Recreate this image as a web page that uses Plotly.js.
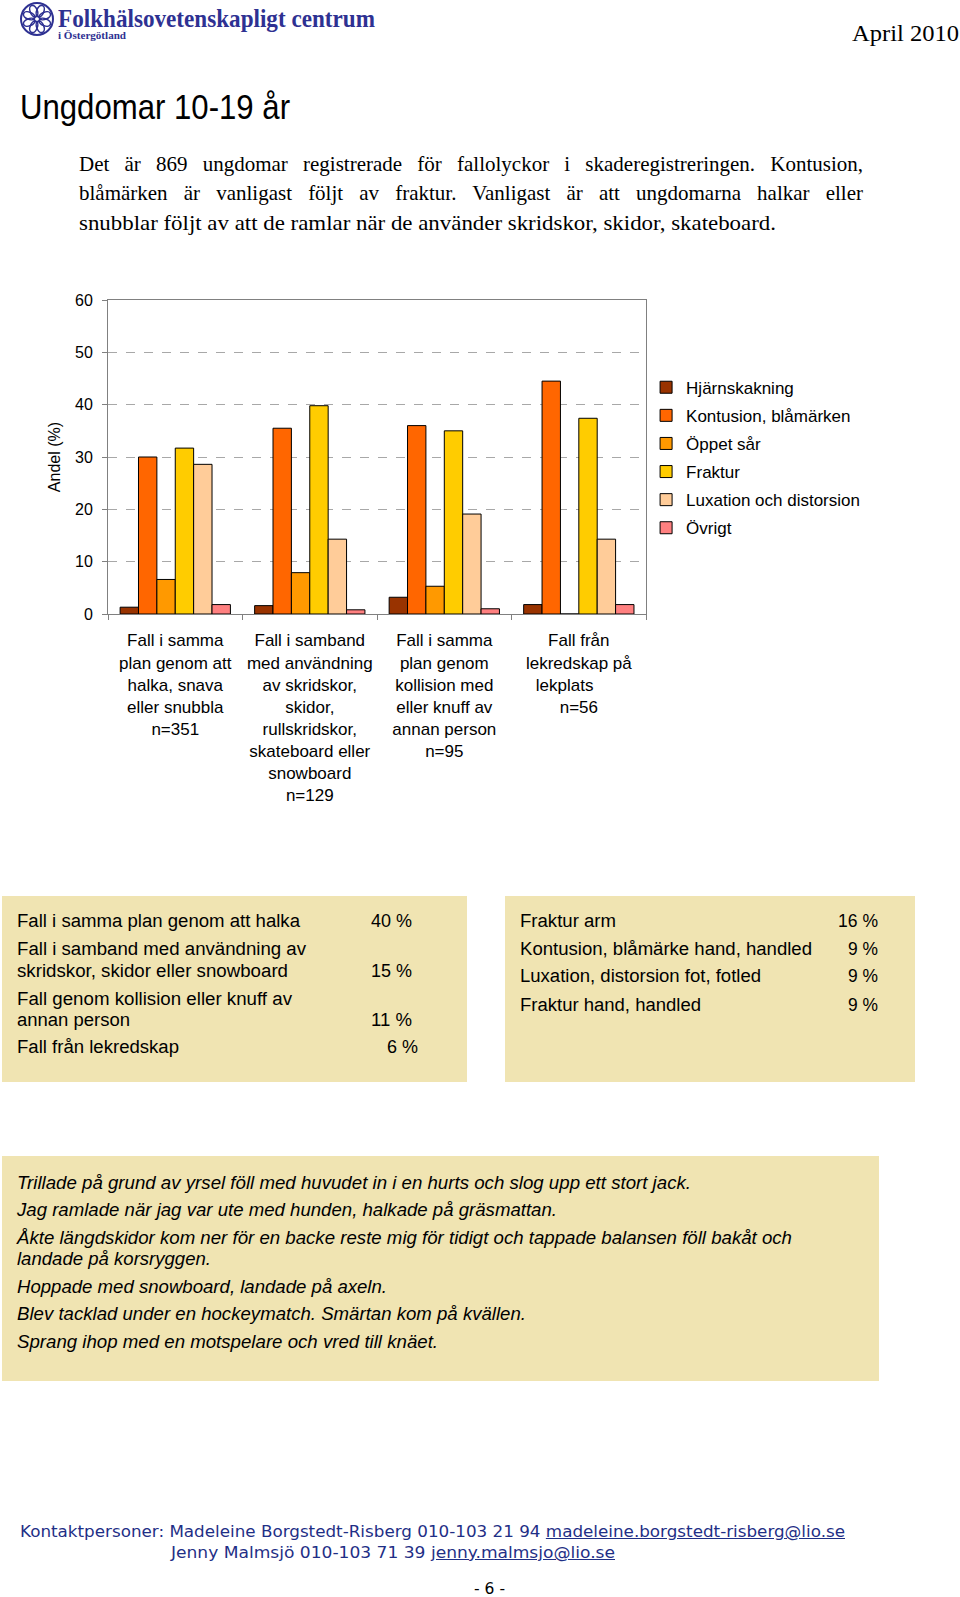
<!DOCTYPE html>
<html><head><meta charset="utf-8">
<script src="https://cdn.plot.ly/plotly-3.0.1.min.js"></script>
<style>
body{margin:0;width:960px;height:1597px;position:relative;background:#fff;overflow:hidden}
.t{position:absolute;white-space:nowrap;line-height:1;transform-origin:0 50%;color:#000}
.box{position:absolute;background:#F0E4B2}
#chart{position:absolute;left:0;top:250px;width:960px;height:570px}
</style></head><body>
<svg style="position:absolute;left:19px;top:1px" width="36" height="36" viewBox="-18 -18 36 36">
  <circle r="16" fill="none" stroke="#2E3192" stroke-width="2"/>
  <g id="petals" fill="none" stroke="#2E3192" stroke-width="1.6"></g>
  <circle r="3" fill="none" stroke="#2E3192" stroke-width="1.4"/>
</svg>
<div class="box" style="left:2px;top:896px;width:465px;height:186px"></div>
<div class="box" style="left:505px;top:896px;width:410px;height:186px"></div>
<div class="box" style="left:2px;top:1156px;width:877px;height:225px"></div>
<div id="chart"></div>
<script>
// ---- chart data ----
const categories = ["Halka, snava, snubbla", "Skridskor, skidor m.m.", "Kollision, knuff", "Lekredskap"];
const tickLabels = [
  "Fall i samma<br>plan genom att<br>halka, snava<br>eller snubbla<br>n=351",
  "Fall i samband<br>med användning<br>av skridskor,<br>skidor,<br>rullskridskor,<br>skateboard eller<br>snowboard<br>n=129",
  "Fall i samma<br>plan genom<br>kollision med<br>eller knuff av<br>annan person<br>n=95",
  "Fall från<br>lekredskap på<br>lekplats&nbsp;&nbsp;&nbsp;&nbsp;&nbsp;&nbsp;<br>n=56"
];
const seriesNames = ["Hjärnskakning", "Kontusion, blåmärken", "Öppet sår", "Fraktur", "Luxation och distorsion", "Övrigt"];
const hjarnskakning = [1.3, 1.6, 3.2, 1.8];
const kontusion     = [30.0, 35.5, 36.0, 44.5];
const oppetSar      = [6.6, 7.9, 5.3, 0];
const fraktur       = [31.7, 39.8, 35.0, 37.4];
const luxation      = [28.6, 14.3, 19.1, 14.3];
const ovrigt        = [1.8, 0.8, 1.0, 1.8];
const yTickVals = [0, 10, 20, 30, 40, 50, 60];

// ---- table / text data ----
const causeLabels = ["Fall i samma plan genom att halka", "Fall i samband med användning av", "skridskor, skidor eller snowboard", "Fall genom kollision eller knuff av", "annan person", "Fall från lekredskap"];
const causeShares = ["40 %", "15 %", "11 %", "6 %"];
const injuryLabels = ["Fraktur arm", "Kontusion, blåmärke hand, handled", "Luxation, distorsion fot, fotled", "Fraktur hand, handled"];
const injuryShares = ["16 %", "9 %", "9 %", "9 %"];
const quotes = [
  "Trillade på grund av yrsel föll med huvudet in i en hurts och slog upp ett stort jack.",
  "Jag ramlade när jag var ute med hunden, halkade på gräsmattan.",
  "Åkte längdskidor kom ner för en backe reste mig för tidigt och tappade balansen föll bakåt och",
  "landade på korsryggen.",
  "Hoppade med snowboard, landade på axeln.",
  "Blev tacklad under en hockeymatch. Smärtan kom på kvällen.",
  "Sprang ihop med en motspelare och vred till knäet."
];
const intro = [
  "Det är 869 ungdomar registrerade för fallolyckor i skaderegistreringen. Kontusion,",
  "blåmärken är vanligast följt av fraktur. Vanligast är att ungdomarna halkar eller",
  "snubblar följt av att de ramlar när de använder skridskor, skidor, skateboard."
];

// ---- petals for logo ----
(function(){
  const g = document.getElementById('petals');
  for (let k = 0; k < 8; k++) {
    const e = document.createElementNS('http://www.w3.org/2000/svg', 'ellipse');
    e.setAttribute('cx', 0); e.setAttribute('cy', -8.5);
    e.setAttribute('rx', 3.6); e.setAttribute('ry', 6);
    e.setAttribute('transform', 'rotate(' + (k * 45 + 22.5) + ')');
    g.appendChild(e);
  }
})();

// ---- text placement helpers ----
const fits = [];
const SANS = '"Liberation Sans", Arial, sans-serif';
const SERIF = '"Liberation Serif", "Times New Roman", serif';
const FOOT = '"DejaVu Sans", Verdana, sans-serif';
function put(html, x, cy, size, family, o) {
  o = o || {};
  const d = document.createElement('div');
  d.className = 't';
  d.innerHTML = html;
  d.style.left = x + 'px';
  d.style.top = (cy - size * 0.5) + 'px';
  d.style.fontSize = size + 'px';
  d.style.fontFamily = family;
  if (o.color) d.style.color = o.color;
  if (o.weight) d.style.fontWeight = o.weight;
  if (o.italic) d.style.fontStyle = 'italic';
  document.body.appendChild(d);
  if (o.w) fits.push({d: d, x: x, w: o.w, justify: o.justify, right: o.right});
  return d;
}
function applyFits() {
  fits.forEach(function(f){
    const w0 = f.d.getBoundingClientRect().width;
    if (f.justify) {
      const n = (f.d.textContent.match(/ /g) || []).length;
      const ws = (f.w - w0) / n;
      if (ws >= 0) { f.d.style.wordSpacing = ws + 'px'; return; }
    }
    f.d.style.transform = 'scaleX(' + (f.w / w0) + ')';
  });
  fits.forEach(function(f){ if (f.right) f.d.style.left = (f.x - f.w) + 'px'; });
}

// header
put("Folkhälsovetenskapligt centrum", 58, 18, 25, SERIF, {weight: 'bold', color: '#2E3192', w: 317});
put("i Östergötland", 58, 35, 11, SERIF, {weight: 'bold', color: '#2E3192', w: 68});
put("April 2010", 852, 33, 24, SERIF, {w: 107});
put("Ungdomar 10-19 år", 20, 106, 35, SANS, {w: 270});
put(intro[0], 79, 164, 21, SERIF, {w: 784, justify: true});
put(intro[1], 79, 193.5, 21, SERIF, {w: 784, justify: true});
put(intro[2], 79, 223, 21, SERIF, {w: 697});

// box 1
const c1y = [921, 949, 971, 999, 1020, 1047];
const c1w = [283, 289, 271, 275, 113, 162];
causeLabels.forEach(function(t, i){ put(t, 17, c1y[i], 18, SANS, {w: c1w[i]}); });
const s1y = [921, 971, 1020, 1047];
const s1x = [412, 412, 412, 418];
const s1w = [41, 41, 41, 31];
causeShares.forEach(function(t, i){ put(t, s1x[i], s1y[i], 18, SANS, {w: s1w[i], right: true}); });

// box 2
const c2y = [921, 949, 976, 1005];
const c2w = [96, 292, 241, 181];
injuryLabels.forEach(function(t, i){ put(t, 520, c2y[i], 18, SANS, {w: c2w[i]}); });
const s2w = [40, 30, 30, 30];
injuryShares.forEach(function(t, i){ put(t, 878, c2y[i], 18, SANS, {w: s2w[i], right: true}); });

// box 3
const q3y = [1184, 1211, 1239, 1260, 1288, 1315, 1343];
const q3w = [674, 540, 775, 194, 370, 509, 421];
quotes.forEach(function(t, i){ put(t, 17, q3y[i], 17.5, SANS, {italic: true, w: q3w[i]}); });

// footer
const FC = '#1F2F86';
put('Kontaktpersoner: Madeleine Borgstedt-Risberg 010-103 21 94 <span style="text-decoration:underline">madeleine.borgstedt-risberg@lio.se</span>', 20, 1532, 16, FOOT, {color: FC, w: 825});
put('Jenny Malmsjö 010-103 71 39 <span style="text-decoration:underline">jenny.malmsjo@lio.se</span>', 171, 1553, 16, FOOT, {color: FC, w: 444});
put('- 6 -', 474, 1589, 15, FOOT, {w: 31});

// ---- chart ----
const seriesValues = [hjarnskakning, kontusion, oppetSar, fraktur, luxation, ovrigt];
const seriesColors = ['#993300', '#FF6600', '#FF9900', '#FFCC00', '#FFCC99', '#FF8080'];
const traces = seriesNames.map(function(name, i){
  return {
    type: 'bar', name: name, x: categories, y: seriesValues[i],
    marker: {color: seriesColors[i], line: {color: '#000', width: 1}},
    legendgroup: 'g' + i, hoverinfo: 'skip'
  };
});
const layout = {
  width: 960, height: 570,
  margin: {l: 108, r: 310, t: 50, b: 206},
  paper_bgcolor: 'rgba(0,0,0,0)', plot_bgcolor: '#fff',
  barmode: 'group', bargap: 0.18, bargroupgap: 0,
  font: {family: SANS, size: 16, color: '#000'},
  xaxis: {
    type: 'category', tickvals: categories, ticktext: tickLabels, tickangle: 0,
    tickson: 'boundaries', ticks: 'outside', ticklen: 5, tickcolor: '#808080',
    showline: true, linecolor: '#808080', linewidth: 1, mirror: true,
    showgrid: false, tickfont: {size: 17}, ticklabelstandoff: 11, fixedrange: true
  },
  yaxis: {
    range: [0, 60], tickvals: yTickVals, ticks: 'outside', ticklen: 5, tickcolor: '#808080',
    showline: true, linecolor: '#808080', linewidth: 1, mirror: true,
    showgrid: true, gridcolor: '#A8A8A8', griddash: 'dash', gridwidth: 1, zeroline: false,
    tickfont: {size: 16}, ticklabelstandoff: 6, fixedrange: true,
    title: {text: 'Andel (%)', font: {size: 16}, standoff: 10}
  },
  legend: {
    xref: 'container', yref: 'container', x: 0.673, y: 0.79,
    xanchor: 'left', yanchor: 'top', font: {size: 17}, tracegroupgap: 3,
    bgcolor: 'rgba(0,0,0,0)', borderwidth: 0
  },
  showlegend: true
};
Plotly.newPlot('chart', traces, layout, {staticPlot: true, displayModeBar: false});

if (document.fonts && document.fonts.ready) { document.fonts.ready.then(applyFits); } else { applyFits(); }
</script>
</body></html>
